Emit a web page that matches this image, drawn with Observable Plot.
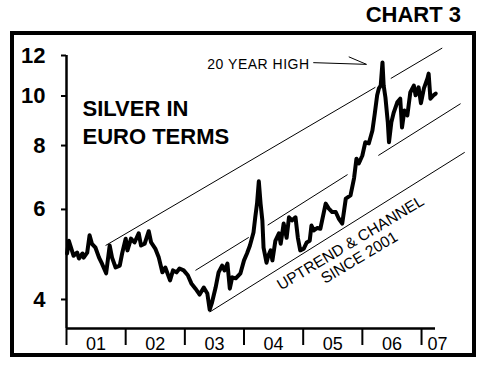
<!DOCTYPE html>
<html><head><meta charset="utf-8">
<script src="https://cdn.jsdelivr.net/npm/d3@7"></script>
<script src="https://cdn.jsdelivr.net/npm/@observablehq/plot@0.6"></script>
<style>
body{margin:0;background:#fff;font-family:"Liberation Sans",Arial,sans-serif;}
#title{position:absolute;left:0;top:4px;width:461px;text-align:right;font-size:22px;font-weight:bold;line-height:22px;color:#000;}
#frame{position:absolute;left:10px;top:31px;border:4px solid #000;width:458px;height:318px;overflow:hidden;background:#fff;}
#frame svg{display:block}
</style></head><body>
<div id="title">CHART 3</div>
<div id="frame"></div>
<script>
// Silver price in euro (decimal year, EUR/oz)
const dates = [2001.01,2001.04,2001.12,2001.18,2001.21,2001.27,2001.29,2001.35,2001.39,2001.43,
2001.49,2001.55,2001.60,2001.67,2001.73,2001.77,2001.83,2001.90,2001.94,2002.00,
2002.03,2002.09,2002.15,2002.22,2002.26,2002.32,2002.39,2002.43,2002.50,2002.56,
2002.62,2002.67,2002.75,2002.80,2002.86,2002.91,2002.98,2003.05,2003.11,2003.18,
2003.25,2003.32,2003.38,2003.42,2003.46,2003.52,2003.57,2003.63,2003.67,2003.72,
2003.76,2003.80,2003.86,2003.94,2004.00,2004.05,2004.10,2004.16,2004.19,2004.22,
2004.25,2004.28,2004.31,2004.33,2004.38,2004.41,2004.45,2004.48,2004.53,2004.59,
2004.62,2004.67,2004.72,2004.76,2004.81,2004.87,2004.91,2004.95,2005.01,2005.06,
2005.11,2005.14,2005.18,2005.24,2005.29,2005.38,2005.43,2005.49,2005.55,2005.60,
2005.66,2005.72,2005.80,2005.86,2005.90,2005.94,2006.00,2006.05,2006.11,2006.17,
2006.21,2006.25,2006.28,2006.31,2006.34,2006.36,2006.39,2006.43,2006.45,2006.49,
2006.53,2006.59,2006.64,2006.67,2006.71,2006.76,2006.81,2006.87,2006.90,2006.95,
2006.99,2007.04,2007.10,2007.12,2007.15,2007.20,2007.24];
const prices = [4.92,5.21,4.87,4.94,4.81,4.92,4.83,4.94,5.34,5.14,
5.05,4.83,4.70,4.50,5.10,4.83,4.62,4.66,4.92,5.26,
4.99,5.26,5.17,5.39,5.10,5.14,5.44,5.17,5.03,4.83,
4.52,4.62,4.36,4.56,4.52,4.60,4.56,4.46,4.30,4.20,
4.09,4.22,4.11,3.82,3.95,4.22,4.52,4.66,4.56,4.70,
4.20,4.42,4.40,4.50,4.77,4.92,5.10,5.41,5.79,6.16,
6.81,6.16,5.71,5.05,4.72,4.87,4.99,4.77,5.21,5.39,
5.14,5.63,5.28,5.79,5.71,5.79,5.28,4.99,5.03,5.17,
5.21,5.58,5.46,5.52,5.50,6.16,6.03,5.93,5.93,5.76,
5.63,6.30,6.39,6.91,7.54,7.38,7.65,8.12,8.08,8.56,
9.24,10.03,10.35,10.48,11.63,10.48,9.93,8.88,8.12,8.88,
9.28,9.72,9.88,8.68,9.37,9.16,10.16,10.48,10.03,10.40,
9.68,10.35,10.82,11.06,9.88,10.03,10.11];

// Channel lines: [year1, value1, year2, value2]
const upperChannel = [[2001.66,5.10,2006.22,10.40],[2006.48,10.82,2007.35,12.41]];
const middleChannel = [[2003.18,4.56,2004.08,5.29],[2004.40,5.59,2005.75,7.02],[2006.27,7.65,2007.66,9.66]];
const lowerChannel = [[2003.42,3.78,2007.73,7.76]];

// Axes
const yTicks = [4,6,8,10,12];
const xTicks = [2001,2002,2003,2004,2005,2006,2007];
const xLabels = ["01","02","03","04","05","06","07"];
const xLabelPos = [2001.5,2002.5,2003.5,2004.5,2005.5,2006.5,2007.27];

// Annotations
const titleText = ["SILVER IN\nEURO TERMS"];
const titlePos = [2001.27, 10.02];
const highText = ["20 YEAR HIGH"];
const highPos = [2003.38, 11.52];
const arrowSegs = [[2005.17,11.62,2006.07,11.53],[2005.77,11.93,2006.07,11.53]];
const channelText = ["UPTREND & CHANNEL\nSINCE 2001"];
const channelPos = [2005.87, 5.00];

const priceData = dates.map((d,i)=>({date:d, price:prices[i]}));
const segs = [...upperChannel, ...middleChannel, ...lowerChannel];
const yMin = 3.51;

const chart = Plot.plot({
  width: 458, height: 318,
  marginLeft: 52, marginRight: 37, marginTop: 20, marginBottom: 25,
  style: {fontFamily: '"Liberation Sans", Arial, sans-serif', background: "#fff", color: "#000", overflow: "visible"},
  x: {type: "linear", domain: [2001, 2007.236]},
  y: {type: "log", domain: [yMin, 12]},
  marks: [
    Plot.axisY(yTicks, {tickSize: 5, tickPadding: 16, fontSize: 22, fontWeight: "bold", strokeWidth: 2, label: null, tickFormat: d => String(d)}),
    Plot.axisX(xTicks, {tickSize: 17, tickFormat: () => "", strokeWidth: 2, label: null}),
    Plot.text(xLabelPos, {x: d => d, text: (d,i) => xLabels[i], frameAnchor: "bottom", lineAnchor: "top", dy: 9, fontSize: 18, fill: "#000"}),
    Plot.ruleY([yMin], {strokeWidth: 2.5, stroke: "#000"}),
    Plot.ruleX([2001], {strokeWidth: 2.5, stroke: "#000"}),
    Plot.link(segs, {x1: d => d[0], y1: d => d[1], x2: d => d[2], y2: d => d[3], stroke: "#000", strokeWidth: 1}),
    Plot.line(priceData, {x: "date", y: "price", stroke: "#000", strokeWidth: 4, strokeLinejoin: "round", strokeLinecap: "round"}),
    Plot.link(arrowSegs, {x1: d => d[0], y1: d => d[1], x2: d => d[2], y2: d => d[3], stroke: "#000", strokeWidth: 1}),
    Plot.text(titleText, {x: titlePos[0], y: titlePos[1], text: d => d, textAnchor: "start", lineAnchor: "top", lineHeight: 1.3, fontSize: 22, fontWeight: "bold", fill: "#000"}),
    Plot.text(highText, {x: highPos[0], y: highPos[1], text: d => d, textAnchor: "start", lineAnchor: "middle", fontSize: 14, fill: "#000"}),
    Plot.text(channelText, {x: channelPos[0], y: channelPos[1], text: d => d, textAnchor: "middle", lineAnchor: "middle", lineHeight: 1.1, rotate: -31, fontSize: 15.5, fill: "#000"})
  ]
});
document.getElementById("frame").appendChild(chart);
d3.select(chart).selectAll("text").filter(function(){return this.textContent === "20 YEAR HIGH";}).style("letter-spacing","0.5px");
</script></body></html>
